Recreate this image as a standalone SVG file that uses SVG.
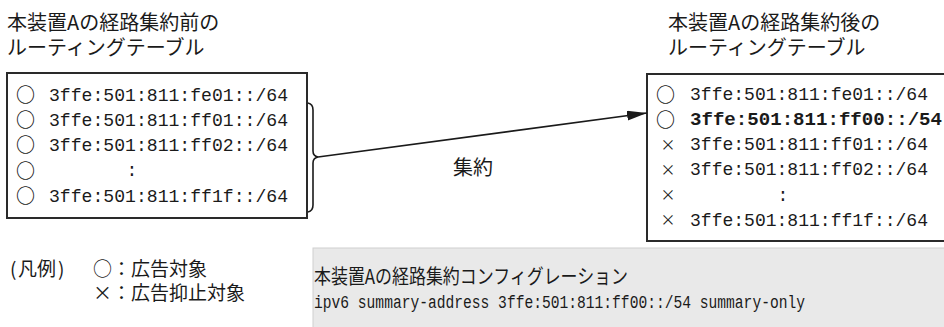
<svg xmlns="http://www.w3.org/2000/svg" width="944" height="327" viewBox="0 0 944 327">
<style>
.jp{font-family:"Noto Sans CJK JP","Noto Sans",sans-serif;fill:#1a1a1a;font-size:20px}
.lg{font-family:"Noto Sans CJK JP","Noto Sans",sans-serif;fill:#1a1a1a;font-size:19px}
.mono{font-family:"Liberation Mono","DejaVu Sans Mono",monospace;fill:#1a1a1a;font-size:18px}
.ci{font-family:"Noto Sans CJK JP",sans-serif;fill:#1a1a1a;font-size:19px;font-weight:bold;text-anchor:middle;dominant-baseline:central}
.xx{font-family:"Noto Sans CJK JP",sans-serif;fill:#1a1a1a;font-size:15px;text-anchor:middle;dominant-baseline:central}
.box{fill:#fff;stroke:#2a2a2a;stroke-width:2}
.conn{fill:none;stroke:#1a1a1a;stroke-width:1.6}
</style>
<defs>
<marker id="ah" viewBox="0 0 20 10" refX="20" refY="5" markerWidth="20" markerHeight="10" markerUnits="userSpaceOnUse" orient="auto">
<path d="M0,0 L20,5 L0,10 z" fill="#1a1a1a"/>
</marker>
</defs>
<rect width="944" height="327" fill="#fff"/>

<g id="title-before">
<text class="jp" x="7" y="30">本装置Aの経路集約前の</text>
<text class="jp" x="7" y="55">ルーティングテーブル</text>
</g>
<g id="title-after">
<text class="jp" x="668" y="30">本装置Aの経路集約後の</text>
<text class="jp" x="668" y="55">ルーティングテーブル</text>
</g>

<g id="table-before">
<rect class="box" x="7" y="73" width="300" height="145"/>
<text class="ci" x="25.5" y="93.5">○</text>
<text class="mono" x="49" y="100.7" textLength="239" lengthAdjust="spacingAndGlyphs">3ffe:501:811:fe01::/64</text>
<text class="ci" x="25.5" y="118.7">○</text>
<text class="mono" x="49" y="125.9" textLength="239" lengthAdjust="spacingAndGlyphs">3ffe:501:811:ff01::/64</text>
<text class="ci" x="25.5" y="143.9">○</text>
<text class="mono" x="49" y="151.1" textLength="239" lengthAdjust="spacingAndGlyphs">3ffe:501:811:ff02::/64</text>
<text class="ci" x="25.5" y="169.1">○</text>
<text class="mono" x="132" y="176.3" text-anchor="middle">:</text>
<text class="ci" x="25.5" y="194.3">○</text>
<text class="mono" x="49" y="201.5" textLength="239" lengthAdjust="spacingAndGlyphs">3ffe:501:811:ff1f::/64</text>
</g>

<g id="table-after">
<rect class="box" x="647" y="74" width="300" height="167"/>
<text class="ci" x="665.5" y="93">○</text>
<text class="mono" x="690" y="99.7" textLength="238" lengthAdjust="spacingAndGlyphs">3ffe:501:811:fe01::/64</text>
<text class="ci" x="665.5" y="118">○</text>
<text class="mono" x="690" y="124.9" font-weight="bold" textLength="252" lengthAdjust="spacingAndGlyphs">3ffe:501:811:ff00::/54</text>
<text class="xx" x="668" y="143">×</text>
<text class="mono" x="690" y="150.1" textLength="238" lengthAdjust="spacingAndGlyphs">3ffe:501:811:ff01::/64</text>
<text class="xx" x="668" y="168.2">×</text>
<text class="mono" x="690" y="175.3" textLength="238" lengthAdjust="spacingAndGlyphs">3ffe:501:811:ff02::/64</text>
<text class="xx" x="668" y="193.4">×</text>
<text class="mono" x="783" y="200.5" text-anchor="middle">:</text>
<text class="xx" x="668" y="218.6">×</text>
<text class="mono" x="690" y="225.7" textLength="238" lengthAdjust="spacingAndGlyphs">3ffe:501:811:ff1f::/64</text>
</g>

<g id="connectors">
<path class="conn" d="M308,103 Q313,104 313,110 L313,151 Q313,156 318,157 Q313,158 313,163 L313,205 Q313,211 308,212"/>
<path class="conn" d="M318,157 L647,113" marker-end="url(#ah)"/>
</g>
<g id="label-summary">
<text class="jp" x="453" y="175">集約</text>
</g>

<g id="legend">
<text class="lg" y="276"><tspan x="10">(</tspan><tspan x="18">凡例</tspan><tspan x="58">)</tspan></text>
<text class="lg" x="93" y="276">○：広告対象</text>
<text class="lg" x="93" y="300">×：広告抑止対象</text>
</g>

<g id="config">
<rect x="313" y="248" width="640" height="90" fill="#e9e9e9" stroke="#cfcfcf" stroke-width="1"/>
<text class="jp" x="314" y="284" font-size="17" textLength="314" lengthAdjust="spacingAndGlyphs">本装置Aの経路集約コンフィグレーション</text>
<text class="mono" x="314" y="308" font-size="16" textLength="491" lengthAdjust="spacingAndGlyphs">ipv6 summary-address 3ffe:501:811:ff00::/54 summary-only</text>
</g>
</svg>
